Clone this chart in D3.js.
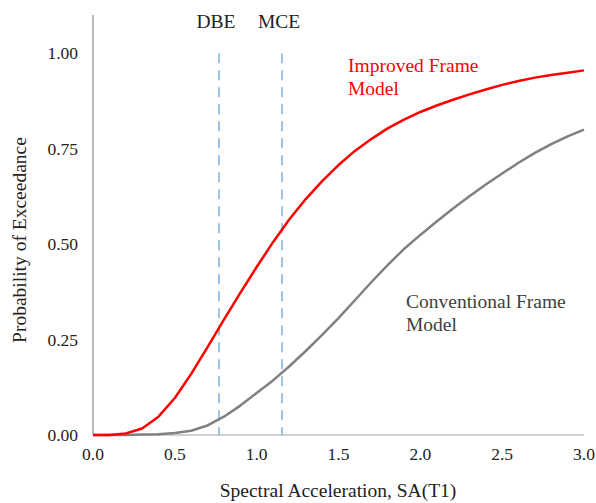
<!DOCTYPE html>
<html>
<head>
<meta charset="utf-8">
<script src="https://cdn.jsdelivr.net/npm/d3@7"></script>
<style>
  html, body { margin: 0; padding: 0; background: #fff; }
  svg { display: block; font-family: "Liberation Serif", "Times New Roman", serif; }
</style>
</head>
<body>
<svg id="chart" width="596" height="503"></svg>
<script>
// Spectral acceleration sampled every 0.1 g
const saValues = [0.0, 0.1, 0.2, 0.3, 0.4, 0.5, 0.6, 0.7, 0.8, 0.9, 1.0,
                  1.1, 1.2, 1.3, 1.4, 1.5, 1.6, 1.7, 1.8, 1.9, 2.0,
                  2.1, 2.2, 2.3, 2.4, 2.5, 2.6, 2.7, 2.8, 2.9, 3.0];

// Fragility curves: probability of exceedance
const improvedFrame = [0.000, 0.000, 0.004, 0.017, 0.048, 0.097, 0.160, 0.230, 0.302, 0.372, 0.440,
                       0.505, 0.565, 0.618, 0.665, 0.707, 0.744, 0.775, 0.803, 0.826, 0.846,
                       0.863, 0.878, 0.892, 0.905, 0.917, 0.927, 0.936, 0.943, 0.949, 0.955];
const conventionalFrame = [0.000, 0.000, 0.000, 0.001, 0.002, 0.005, 0.011, 0.025, 0.048, 0.077, 0.110,
                           0.143, 0.180, 0.220, 0.262, 0.306, 0.353, 0.400, 0.445, 0.487, 0.524,
                           0.559, 0.593, 0.625, 0.656, 0.685, 0.713, 0.739, 0.762, 0.782, 0.800];

// Hazard levels
const hazardNames = ["DBE", "MCE"];
const hazardSA = [0.77, 1.155];

const xTicks = [0, 0.5, 1.0, 1.5, 2.0, 2.5, 3.0];
const yTicks = [0, 0.25, 0.5, 0.75, 1.0];

const svg = d3.select("#chart");

const x = d3.scaleLinear().domain([0, 3]).range([93, 584]);
const y = d3.scaleLinear().domain([0, 1.1]).range([435, 15]);

// Axis lines
svg.append("line")
  .attr("x1", x(0)).attr("x2", x(0))
  .attr("y1", y(1.1)).attr("y2", y(0))
  .attr("stroke", "#8c8c8c").attr("stroke-width", 1.2);
svg.append("line")
  .attr("x1", x(0)).attr("x2", x(3))
  .attr("y1", y(0)).attr("y2", y(0))
  .attr("stroke", "#bfbfbf").attr("stroke-width", 1.5);

// Tick labels
svg.append("g").selectAll("text").data(yTicks).join("text")
  .attr("x", 78).attr("y", d => y(d))
  .attr("dy", "0.35em")
  .attr("text-anchor", "end")
  .attr("font-size", 17.5).attr("fill", "#222")
  .text(d => d3.format(".2f")(d));

svg.append("g").selectAll("text").data(xTicks).join("text")
  .attr("x", d => x(d)).attr("y", 460)
  .attr("text-anchor", "middle")
  .attr("font-size", 17.5).attr("fill", "#222")
  .text(d => d3.format(".1f")(d));

// Axis titles
svg.append("text")
  .attr("transform", "translate(26,240) rotate(-90)")
  .attr("text-anchor", "middle")
  .attr("font-size", 19.5).attr("fill", "#222")
  .text("Probability of Exceedance");
svg.append("text")
  .attr("x", 338).attr("y", 497)
  .attr("text-anchor", "middle")
  .attr("font-size", 19.5).attr("fill", "#222")
  .text("Spectral Acceleration, SA(T1)");

// Hazard level markers
const hazards = hazardNames.map((n, i) => ({ name: n, sa: hazardSA[i] }));
svg.append("g").selectAll("line").data(hazards).join("line")
  .attr("x1", d => x(d.sa)).attr("x2", d => x(d.sa))
  .attr("y1", y(1.0)).attr("y2", y(0))
  .attr("stroke", "#9dc3e6").attr("stroke-width", 2)
  .attr("stroke-dasharray", "10,7");
svg.append("g").selectAll("text").data(hazards).join("text")
  .attr("x", d => x(d.sa) - 3).attr("y", 28)
  .attr("text-anchor", "middle")
  .attr("font-size", 19.5).attr("fill", "#222")
  .text(d => d.name);

// Curves
const line = d3.line()
  .x((d, i) => x(saValues[i]))
  .y(d => y(d));

svg.append("path")
  .datum(conventionalFrame)
  .attr("d", line)
  .attr("fill", "none")
  .attr("stroke", "#808080").attr("stroke-width", 2.5)
  .attr("stroke-linejoin", "round");

svg.append("path")
  .datum(improvedFrame)
  .attr("d", line)
  .attr("fill", "none")
  .attr("stroke", "#ff0000").attr("stroke-width", 2.5)
  .attr("stroke-linejoin", "round");

// Series labels
const improvedLabel = svg.append("text")
  .attr("font-size", 19.5).attr("fill", "#ff0000");
improvedLabel.append("tspan").attr("x", 348).attr("y", 72).text("Improved Frame");
improvedLabel.append("tspan").attr("x", 348).attr("y", 95).text("Model");

const convLabel = svg.append("text")
  .attr("font-size", 19.5).attr("fill", "#404040");
convLabel.append("tspan").attr("x", 406).attr("y", 308).text("Conventional Frame");
convLabel.append("tspan").attr("x", 406).attr("y", 331).text("Model");
</script>
</body>
</html>
